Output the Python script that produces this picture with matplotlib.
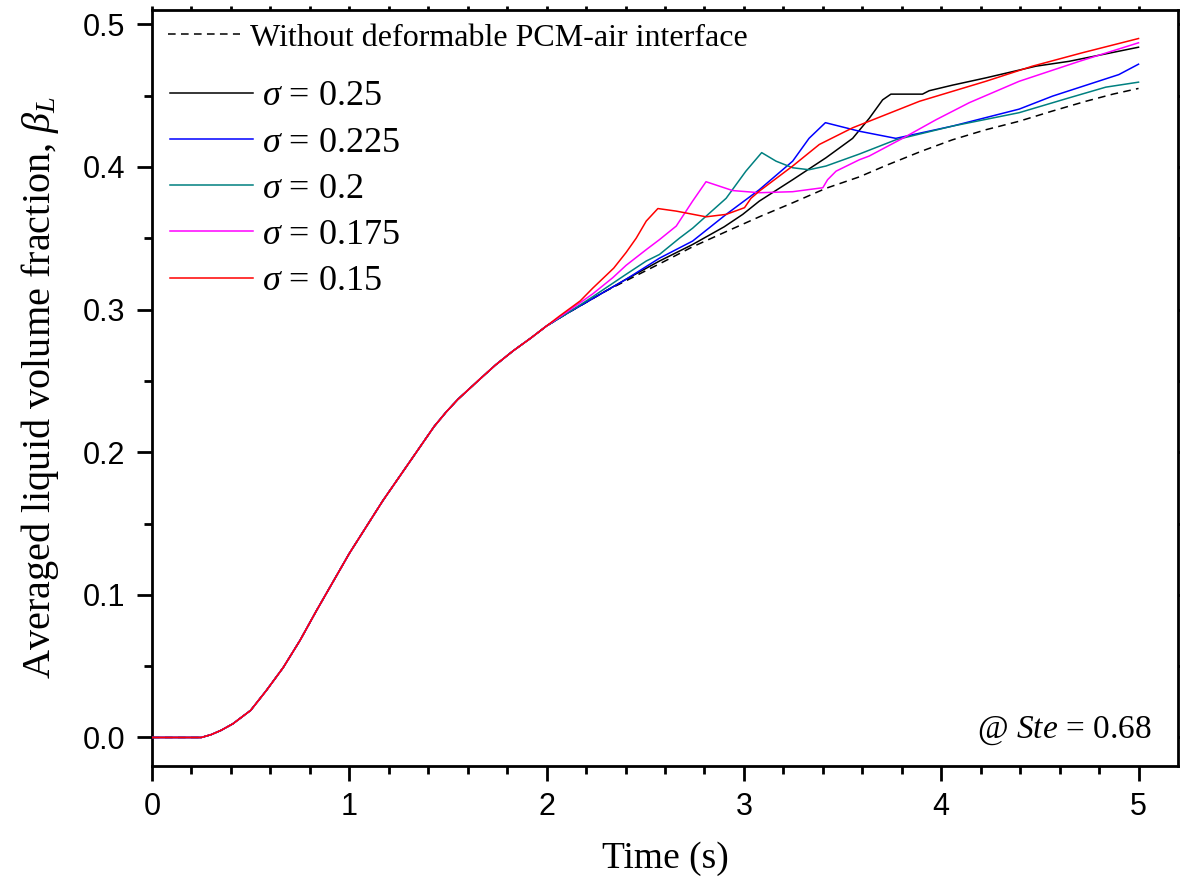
import numpy as np
import matplotlib
matplotlib.use('Agg')
from matplotlib import pyplot as plt
from matplotlib.lines import Line2D

plt.rcParams['mathtext.fontset'] = 'custom'
plt.rcParams['mathtext.rm'] = 'Liberation Serif'
plt.rcParams['mathtext.it'] = 'Liberation Serif:italic'
plt.rcParams['font.family'] = 'Liberation Serif'

# shared early melting curve (all cases overlap here)
t_base = [0, 0.25, 0.3, 0.35, 0.41, 0.5, 0.58, 0.665, 0.75, 0.834, 1.0, 1.17, 1.315, 1.38, 1.43, 1.49, 1.55, 1.66, 1.74, 1.83, 1.92, 2.0]
b_base = [0, 0, 0.002, 0.005, 0.0096, 0.019, 0.033, 0.049, 0.068, 0.089, 0.129, 0.166, 0.195, 0.208, 0.218, 0.228, 0.237, 0.251, 0.261, 0.271, 0.280, 0.2885]

# without deformable interface (dashed)
t_rigid = [2.1, 2.2, 2.3, 2.4, 2.5, 2.6, 2.74, 2.9, 3.078, 3.25, 3.416, 3.585, 3.72, 3.9, 4.057, 4.225, 4.395, 4.56, 4.733, 4.87, 5.0]
b_rigid = [0.297, 0.305, 0.313, 0.320, 0.327, 0.334, 0.344, 0.354, 0.365, 0.375, 0.385, 0.393, 0.401, 0.411, 0.419, 0.426, 0.432, 0.439, 0.446, 0.451, 0.455]

# sigma = 0.25
t_s250 = [2.1, 2.2, 2.3, 2.4, 2.572, 2.74, 2.9, 2.994, 3.078, 3.247, 3.416, 3.551, 3.635, 3.703, 3.745, 3.905, 3.939, 4.057, 4.226, 4.48, 4.648, 5.0]
b_s250 = [0.297, 0.305, 0.313, 0.321, 0.334, 0.3456, 0.358, 0.3667, 0.376, 0.391, 0.4064, 0.420, 0.434, 0.447, 0.451, 0.451, 0.4534, 0.4573, 0.4624, 0.4706, 0.474, 0.4839]

# sigma = 0.225
t_s225 = [2.1, 2.2, 2.3, 2.4, 2.572, 2.74, 2.91, 3.078, 3.247, 3.33, 3.413, 3.585, 3.77, 4.057, 4.395, 4.564, 4.9, 5.0]
b_s225 = [0.297, 0.305, 0.313, 0.321, 0.336, 0.348, 0.3667, 0.384, 0.404, 0.420, 0.431, 0.425, 0.420, 0.4286, 0.4405, 0.4496, 0.4647, 0.472]

# sigma = 0.2
t_s200 = [2.1, 2.234, 2.403, 2.505, 2.572, 2.673, 2.74, 2.91, 3.01, 3.09, 3.163, 3.247, 3.33, 3.416, 3.585, 3.77, 4.057, 4.395, 4.648, 4.834, 5.0]
b_s200 = [0.297, 0.309, 0.3247, 0.334, 0.3386, 0.350, 0.357, 0.378, 0.397, 0.410, 0.404, 0.3994, 0.398, 0.4006, 0.409, 0.419, 0.4286, 0.438, 0.4484, 0.4559, 0.4594]

# sigma = 0.175
t_s175 = [2.1, 2.234, 2.336, 2.403, 2.505, 2.572, 2.657, 2.74, 2.808, 2.943, 3.078, 3.247, 3.4, 3.424, 3.467, 3.585, 3.635, 3.804, 3.973, 4.142, 4.395, 4.7, 5.0]
b_s175 = [0.298, 0.311, 0.3224, 0.331, 0.342, 0.349, 0.3585, 0.376, 0.3896, 0.3834, 0.3819, 0.3826, 0.3854, 0.391, 0.397, 0.405, 0.4076, 0.420, 0.433, 0.445, 0.460, 0.474, 0.487]

# sigma = 0.15
t_s150 = [2.066, 2.17, 2.234, 2.34, 2.403, 2.454, 2.505, 2.564, 2.657, 2.808, 2.91, 3.003, 3.036, 3.078, 3.247, 3.382, 3.551, 3.89, 4.226, 4.462, 4.715, 5.0]
b_s150 = [0.2955, 0.306, 0.315, 0.329, 0.340, 0.350, 0.362, 0.3708, 0.369, 0.365, 0.3667, 0.3714, 0.378, 0.383, 0.4006, 0.4157, 0.4274, 0.446, 0.460, 0.4706, 0.480, 0.490]

sigmas = ['0.25', '0.225', '0.2', '0.175', '0.15']
colors = ['black', '#0000ff', '#008080', '#ff00ff', '#ff0000']
series = [(t_s250, b_s250), (t_s225, b_s225), (t_s200, b_s200), (t_s175, b_s175), (t_s150, b_s150)]

fig = plt.figure(figsize=(11.8, 8.83), dpi=100)
ax = fig.add_axes([0.1288, 0.1325, 0.8695, 0.8562])

ax.plot(t_base + t_rigid, b_base + b_rigid, color='black', lw=1.1, dashes=(5, 3.5), zorder=2)
lines = []
for (t, b), c, s in zip(series, colors, sigmas):
    ln, = ax.plot(t_base + t, b_base + b, color=c, lw=1.1, label=r'$\sigma$ = ' + s, zorder=3)
    lines.append(ln)

ax.set_xlim(0, 5.2)
ax.set_ylim(-0.02, 0.51)
ax.set_xticks([0, 1, 2, 3, 4, 5])
ax.set_xticks(np.arange(0, 5.2, 0.2), minor=True)
ax.set_yticks([0.0, 0.1, 0.2, 0.3, 0.4, 0.5])
ax.set_yticks(np.arange(0, 0.51, 0.05), minor=True)
ax.set_yticklabels(['0.0', '0.1', '0.2', '0.3', '0.4', '0.5'])

for sp in ax.spines.values():
    sp.set_linewidth(2.0)
ax.tick_params(which='major', direction='out', length=11, width=2, pad=8,
               labelsize=22, labelfontfamily='Liberation Sans')
ax.tick_params(which='minor', direction='out', length=6, width=2)
ax.tick_params(which='both', top=True, right=True)
for tk in ax.xaxis.get_major_ticks() + ax.xaxis.get_minor_ticks():
    tk.tick2line.set_markersize(3)
for tk in ax.yaxis.get_major_ticks() + ax.yaxis.get_minor_ticks():
    tk.tick2line.set_markersize(3)

ax.set_xlabel('Time (s)', fontsize=27, labelpad=14)
ax.set_ylabel(r'Averaged liquid volume fraction, $\beta_L$', fontsize=29, labelpad=16)

rigid_handle = Line2D([], [], color='black', lw=1.1, dashes=(5, 3.5))
leg1 = ax.legend([rigid_handle], ['Without deformable PCM-air interface'], loc='center left',
                 bbox_to_anchor=(0.0156, 0.963), frameon=False, fontsize=23,
                 handlelength=2.25, handletextpad=0.33, borderpad=0, borderaxespad=0)
ax.add_artist(leg1)
ax.legend(handles=lines, loc='center left', bbox_to_anchor=(0.0175, 0.763), frameon=False,
          fontsize=26, handlelength=2.3, handletextpad=0.25, labelspacing=0.36,
          borderpad=0, borderaxespad=0)

ax.text(0.974, 0.038, r'@ $Ste$ = 0.68', transform=ax.transAxes, ha='right', va='baseline', fontsize=24)

fig.savefig('out.png', dpi=100)
